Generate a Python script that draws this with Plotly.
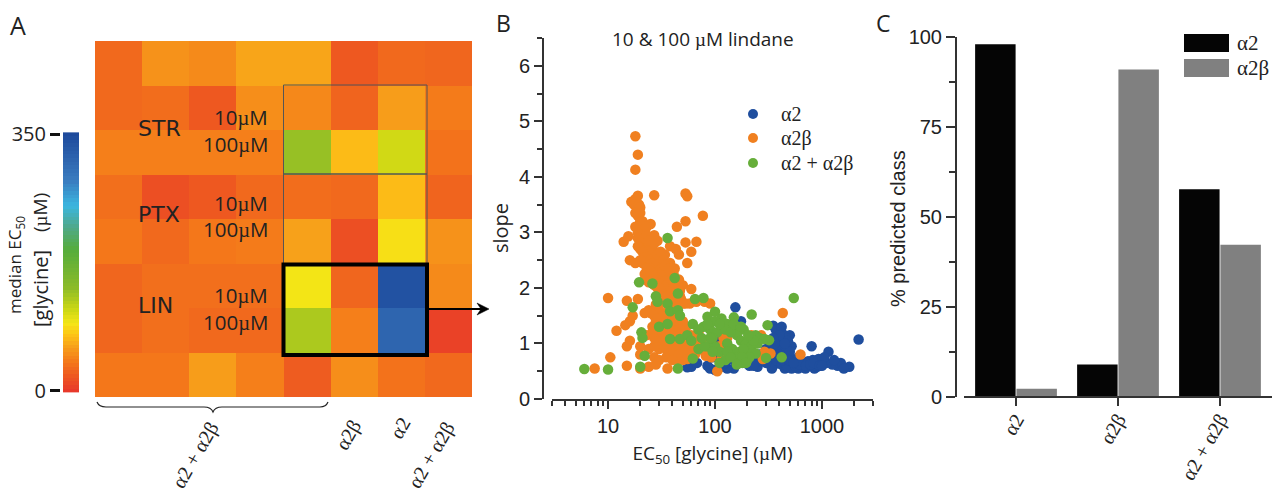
import plotly.graph_objects as go

W, H = 1275, 495

# ---------- Panel A data ----------
heat_rows = [
    [30, 52, 48, 62, 62, 20, 30, 28],
    [30, 32, 20, 50, 47, 27, 58, 40],
    [42, 42, 42, 42, 135, 72, 108, 35],
    [33, 14, 20, 30, 32, 30, 72, 27],
    [38, 30, 38, 40, 60, 14, 88, 52],
    [28, 33, 33, 33, 92, 28, 340, 48],
    [28, 33, 30, 30, 125, 42, 315, 6],
    [38, 38, 58, 42, 22, 50, 35, 30],
]
bar_levels = list(range(0, 351, 5))
heat_colors = [
    [0.0, "#e8392a"], [0.06, "#ee5a20"], [0.11, "#f4781a"], [0.17, "#f7a01a"],
    [0.215, "#fdc216"], [0.26, "#f5e616"], [0.32, "#c8d615"], [0.40, "#8cbb28"],
    [0.55, "#55ac3c"], [0.64, "#4fa98c"], [0.72, "#3bb6e0"], [0.82, "#3a7bbf"],
    [1.0, "#1e4a9c"],
]

# ---------- Panel B data ----------
a2_ec = [2200,1800,1500,1400,1250,1150,1100,1000,900,850,800,820,750,700,650,600,550,500,450,420,400,380,350,420,500,520,480,460,400,360,330,320,300,350,340,250,240,190,170,175,155,150,130,115,100,90,85,60,55,62,68,110,120,145,200,430,450,370,390,430,520,600,680,740,900,930,1050,1300,1600,280,
         420,440,460,480,400,380,410,440,470,500,350,340,320,370,420,470,560,620,710,780,840,950,1000,300,260,230,150,125,140,95,
         130,180,210,230,450,400,360,430,490,540]
a2_slope = [1.07,.58,.65,.6,.62,.85,.65,.72,.7,.55,.95,.7,.6,.55,.65,.55,.7,.6,.55,.85,1.0,1.1,1.32,1.2,1.15,.95,.8,.7,.65,.8,.95,1.05,.9,.6,.55,.58,.65,.65,.8,1.4,1.65,.55,.55,.58,.52,.55,.6,.58,.57,.85,.65,1.1,.85,1.3,.75,1.05,.95,1.25,.9,.75,.55,.75,.62,.68,.58,.72,.75,.7,.55,.72,
            1.3,1.15,1.1,1.05,1.15,.95,.9,.85,.9,.85,1.1,.85,.75,.7,.62,.6,.6,.62,.6,.62,.65,.6,.6,.65,.8,.75,.7,.65,.9,.75,
            .8,.85,.6,.6,1.0,.8,1.0,.7,.7,.65]
a2b_ec = [18,19,18,27,19,18,16.5,17.5,19.5,53,55,53,77,44,19,20,18,21,25,22,27,29,14,15.5,19,21,23,20,24,38,43,53,67,60,46,34,55,16,18,21,24,27,30,38,34,22,26,30,33,36,41,46,50,29,34,38,44,48,60,10,15,19,53,58,67,80,90,32,36,40,30,35,24,27,22,28,33,26,17,16,14.5,12,430,40,44,38,50,54,28,23,32,38,42,48,55,65,75,30,36,42,50,58,65,82,92,15,16,20,20,24,27,10.5,27,30,45,50,28,15,24,20,36,7.5,105,290,330,630,120,220,210,130,190,280,
          20,19,22,23,19,21,22,20,25,26,28,23,25,29,32,35,31,33,36,40,43,45,40,38,42,45,50,47,28,25,29,33,40,45,50,37,35,42,33,38,44,40,46,52,35,40,55,60,70,60,70,80,48,52,30,27,34,
          18,20,21,23,24,26,27,29,31,33,22,24,27,30,34,37,39,42,44,47,36,39,43,32,30,26,34,38,47,53,57,62,110,115,130,170,250,270]
a2b_slope = [4.73,4.4,4.13,3.67,3.66,3.6,3.55,3.5,3.5,3.7,3.65,3.2,3.3,3.1,3.3,3.2,3.1,3.05,3.15,3.0,2.95,2.85,2.83,2.93,2.9,2.85,2.75,2.7,2.6,2.75,2.7,2.82,2.83,2.65,2.6,2.6,2.45,2.5,2.45,2.45,2.4,2.35,2.4,2.45,2.3,2.25,2.2,2.15,2.1,2.2,2.25,2.15,2.05,2.0,1.95,1.9,1.85,1.8,1.98,1.82,1.77,1.8,1.72,1.72,1.75,1.75,1.72,1.75,1.7,1.65,1.6,1.55,1.6,1.5,1.55,1.4,1.35,1.3,1.5,1.4,1.33,1.23,1.55,1.3,1.25,1.2,1.15,1.3,1.15,1.15,1.05,1.0,1.0,.95,1.0,1.05,1.0,.9,.85,.85,.8,.85,.8,.78,.75,.95,1.05,.95,.8,.9,.95,.75,.75,.7,.7,.7,.62,.6,.58,.55,.55,.55,.5,.85,.82,.8,1.1,1.15,.85,.8,.7,.72,
             3.45,3.0,2.9,2.95,2.75,2.65,2.55,2.5,2.5,2.45,2.5,2.35,2.3,2.25,2.3,2.05,1.95,1.85,1.85,1.95,2.0,2.05,2.1,1.75,1.75,1.7,1.72,1.95,1.7,1.55,1.45,1.5,1.45,1.4,1.4,1.3,1.15,1.15,.95,.9,.9,.8,.8,.85,.75,.7,.72,.75,.9,1.15,1.2,.85,1.1,1.05,1.05,1.1,1.25,
             3.35,3.35,3.2,3.1,2.85,2.7,2.8,2.6,2.65,2.5,2.15,2.1,2.05,2.0,2.4,2.35,2.15,2.35,1.9,1.85,1.45,1.6,1.55,1.2,1.25,1.2,1.05,1.05,1.25,1.2,1.0,.95,.95,.72,1.1,.72,1.1,1.15]
mix_ec = [6,10,20,22,45,62,36,19.5,26,42,45,28,29,17,36,38,45,47,65,78,545,220,100,85,115,150,20.5,21,30,36,38,47,55,60,62,78,90,100,105,130,160,185,240,260,290,310,320,160,175,195,220,130,100,85,70,110,145,170,200,240,155,125,110,180,200,300,420,130,165,95,80,
          125,140,150,175,110,90,75,70,185,210,180,95,250,230,205,85,140,195,160]
mix_slope = [.54,.53,.58,.78,.55,.73,2.9,2.1,2.08,2.18,1.9,1.85,1.75,1.65,1.72,1.58,1.6,1.5,1.8,1.82,1.82,1.52,1.57,1.48,1.45,1.47,1.2,1.1,1.3,1.35,1.08,1.08,1.15,1.05,1.35,1.3,1.25,1.4,1.2,1.35,1.3,1.25,1.15,1.1,1.08,1.33,1.06,1.15,1.05,1.0,.95,1.0,.95,.95,.9,.85,.9,.85,.82,.82,.75,.7,.65,.65,.7,.74,.75,.85,.65,1.1,.95,
             1.25,1.2,1.35,1.3,1.35,1.1,1.1,1.25,.9,.75,.75,.85,1.0,1.05,1.15,1.35,.75,.65,.62]
x_minor = [3,4,5,6,7,8,9,20,30,40,50,60,70,80,90,200,300,400,500,600,700,800,900,2000,3000]

# ---------- Panel C data ----------
classes = ["α2", "α2β", "α2 + α2β"]
pred_a2 = [98, 9, 57.7]
pred_a2b = [2.3, 91, 42.3]

assert len(a2_ec) == len(a2_slope) and len(a2b_ec) == len(a2b_slope) and len(mix_ec) == len(mix_slope)

SANS = "Liberation Sans"
HUM = "Open Sans"
SERIF = "Liberation Serif"
INK = "#222222"
MU = '<span style="font-family:Liberation Serif">µ</span>'
COL_A2, COL_A2B, COL_MIX = "#1f4e9e", "#f08020", "#66ae3a"


def px(x):
    return x / W


def py(y):
    return 1 - y / H


fig = go.Figure()

# Panel A
fig.add_trace(go.Heatmap(z=heat_rows, zmin=0, zmax=350, colorscale=heat_colors, showscale=False,
                         xaxis="x3", yaxis="y3", hoverinfo="skip"))
fig.add_trace(go.Heatmap(z=[[v] for v in bar_levels], y=bar_levels, zmin=0, zmax=350,
                         colorscale=heat_colors, showscale=False, xaxis="x4", yaxis="y4", hoverinfo="skip"))

# Panel B
for name, xs, ys, col in [("α2", a2_ec, a2_slope, COL_A2),
                          ("α2β", a2b_ec, a2b_slope, COL_A2B),
                          ("α2 + α2β", mix_ec, mix_slope, COL_MIX)]:
    fig.add_trace(go.Scatter(x=xs, y=ys, mode="markers", name=name, xaxis="x", yaxis="y", showlegend=False,
                             marker=dict(size=10.5, color=col, line=dict(width=0))))

# Panel C
fig.add_trace(go.Bar(x=classes, y=pred_a2, name="α2", marker=dict(color="#050505", line=dict(width=0)),
                     xaxis="x2", yaxis="y2", showlegend=False))
fig.add_trace(go.Bar(x=classes, y=pred_a2b, name="α2β", marker=dict(color="#808080", line=dict(width=0)),
                     xaxis="x2", yaxis="y2", showlegend=False))

ann = []


def text(x, y, s, size=20, font=HUM, angle=0, anchor="center", color=INK):
    ann.append(dict(x=px(x), y=py(y), xref="paper", yref="paper", text=s, showarrow=False,
                    xanchor=anchor, yanchor="middle", textangle=angle,
                    font=dict(family=font, size=size, color=color)))


text(18, 25, "A", 25)
text(503, 23, "B", 23)
text(883, 23, "C", 23)
text(703, 39, f"10 &amp; 100 {MU}M lindane", 19)

for lab, y in [("STR", 128), ("PTX", 214), ("LIN", 305)]:
    text(136, y, lab, 22, "DejaVu Sans", anchor="left")
for y, s in [(117, "10"), (144, "100"), (203, "10"), (229, "100"), (295, "10"), (322, "100")]:
    text(270, y, f"{s}{MU}M", 20.5, anchor="right")

text(15, 265, "median EC<sub>50</sub>", 17, angle=-90)
text(40, 289, "[glycine]", 20, angle=-90)
text(40, 213, f"({MU}M)", 19, angle=-90)

text(195, 455, "α2 + α2β", 20, SERIF, -60)
text(348, 435, "α2β", 20, SERIF, -60)
text(400, 428, "α2", 20, SERIF, -60)
text(431, 455, "α2 + α2β", 20, SERIF, -60)

text(1235, 43, "α2", 21, SERIF, anchor="left")
text(1235, 68, "α2β", 21, SERIF, anchor="left")

text(500, 228, "slope", 20, angle=-90)
text(898, 229, "% predicted class", 20, SANS, angle=-90)

for y, s in [(114, "α2"), (138, "α2β"), (163, "α2 + α2β")]:
    text(779, y, s, 20, SERIF, anchor="left")

shapes = []


def rect(x0, y0, x1, y1, lw=1, fill=None, line="#444"):
    shapes.append(dict(type="rect", xref="paper", yref="paper", x0=px(x0), x1=px(x1), y0=py(y0), y1=py(y1),
                       line=dict(color=line, width=lw), fillcolor=fill))


rect(283.5, 85, 427, 174, 1, line="#555")
rect(283.5, 174, 427, 264, 1, line="#555")
rect(283.5, 264.5, 427, 355, 4, line="#000")
rect(1184, 34, 1229, 52, 0, "#050505", "rgba(0,0,0,0)")
rect(1184, 59, 1229, 77, 0, "#808080", "rgba(0,0,0,0)")

for y, col in [(114, COL_A2), (138, COL_A2B), (163, COL_MIX)]:
    shapes.append(dict(type="circle", xref="paper", yref="paper", x0=px(748), x1=px(758), y0=py(y + 5), y1=py(y - 5),
                       fillcolor=col, line=dict(width=0)))

brace = (f"M {px(97)} {py(402)} Q {px(99)} {py(407)} {px(106)} {py(407)} L {px(204)} {py(407)} "
         f"Q {px(211)} {py(407)} {px(213)} {py(412)} Q {px(215)} {py(407)} {px(222)} {py(407)} "
         f"L {px(320)} {py(407)} Q {px(326)} {py(407)} {px(328)} {py(402)}")
shapes.append(dict(type="path", xref="paper", yref="paper", path=brace, line=dict(color="#222", width=1.2)))

# arrow from the thick box to panel B
shapes.append(dict(type="line", xref="paper", yref="paper", x0=px(428), x1=px(486), y0=py(309), y1=py(309),
                   line=dict(color="#000", width=2.2)))
shapes.append(dict(type="path", xref="paper", yref="paper",
                   path=f"M {px(489)} {py(309)} L {px(477)} {py(303)} L {px(481)} {py(309)} L {px(477)} {py(315)} Z",
                   fillcolor="#000", line=dict(color="#000", width=0.5)))

axis_common = dict(showgrid=False, zeroline=False, showline=True, linecolor="#333", linewidth=2,
                   ticks="outside", tickcolor="#333", tickwidth=2)
hidden = dict(showgrid=False, zeroline=False, showline=False, ticks="", showticklabels=False)

fig.update_layout(
    width=W, height=H, margin=dict(l=0, r=0, t=0, b=0, autoexpand=False), paper_bgcolor="white",
    plot_bgcolor="rgba(0,0,0,0)",
    barmode="group", bargap=0.19, bargroupgap=0.02, annotations=ann, shapes=shapes, showlegend=False,
    # Panel B axes
    xaxis=dict(**axis_common, type="log", domain=[px(552), px(873)], range=[0.476, 3.477],
               anchor="free", position=py(400), tickvals=[10, 100, 1000], ticktext=["10", "100", "1000"],
               ticklen=8, tickfont=dict(family=SANS, size=20, color=INK),
               minor=dict(ticks="outside", tickmode="array", tickvals=x_minor, ticklen=5, tickcolor="#333", tickwidth=1.5),
               title=dict(text=f"EC<sub>50</sub> [glycine] ({MU}M)", font=dict(family=HUM, size=19, color=INK), standoff=10)),
    yaxis=dict(**axis_common, domain=[py(399), py(38)], range=[0, 6.5], anchor="free", position=px(543),
               tick0=0, dtick=1, ticklen=8, tickfont=dict(family=SANS, size=20, color=INK),
               minor=dict(ticks="outside", dtick=0.5, ticklen=5, tickcolor="#333", tickwidth=1.5)),
    # Panel C axes
    xaxis2=dict(**axis_common, domain=[px(964), px(1272)], range=[-0.51, 2.51], anchor="free", position=py(397),
                ticklen=8, tickangle=-60, ticklabelstandoff=-6, tickfont=dict(family=SERIF, size=20, color=INK)),
    yaxis2=dict(**axis_common, domain=[py(397), py(37)], range=[0, 100], anchor="free", position=px(956),
                tick0=0, dtick=25, ticklen=9, tickfont=dict(family=SANS, size=20, color=INK),
                minor=dict(ticks="outside", dtick=12.5, ticklen=6, tickcolor="#333", tickwidth=1.5)),
    # Heatmap axes
    xaxis3=dict(**hidden, domain=[px(95), px(472)], range=[-0.5, 7.5], anchor="y3"),
    yaxis3=dict(**hidden, domain=[py(397), py(41)], range=[7.5, -0.5], anchor="x3"),
    # Colour-bar axes
    xaxis4=dict(**hidden, domain=[px(63), px(79)], range=[-0.5, 0.5], anchor="y4"),
    yaxis4=dict(showgrid=False, zeroline=False, showline=False, domain=[py(393), py(132)], range=[-3, 353],
                anchor="free", position=px(60), tickvals=[0, 350], ticks="outside", ticklen=10, tickwidth=3,
                tickcolor="#111", tickfont=dict(family=HUM, size=20, color=INK)),
)

fig.write_html("out.html", config={"displayModeBar": False},
               post_script="document.body.style.margin='0';document.body.style.overflow='hidden';")
